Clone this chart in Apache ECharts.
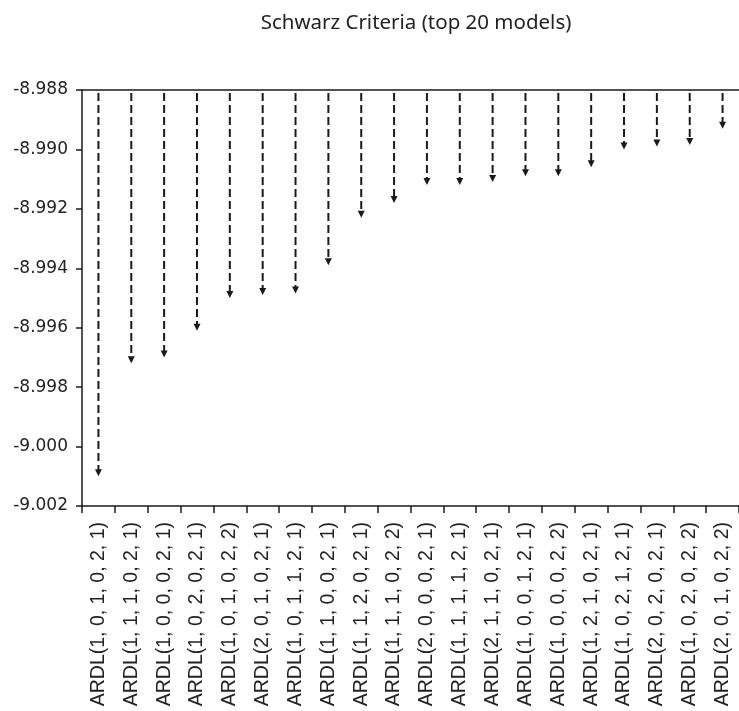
<!DOCTYPE html>
<html>
<head>
<meta charset="utf-8">
<script src="https://cdn.jsdelivr.net/npm/echarts@6/dist/echarts.min.js"></script>
<style>html,body{margin:0;padding:0;background:#fff}#c{width:739px;height:711px}</style>
</head>
<body>
<div id="c"></div>
<script>
const models = [
  "ARDL(1, 0, 1, 0, 2, 1)", "ARDL(1, 1, 1, 0, 2, 1)", "ARDL(1, 0, 0, 0, 2, 1)",
  "ARDL(1, 0, 2, 0, 2, 1)", "ARDL(1, 0, 1, 0, 2, 2)", "ARDL(2, 0, 1, 0, 2, 1)",
  "ARDL(1, 0, 1, 1, 2, 1)", "ARDL(1, 1, 0, 0, 2, 1)", "ARDL(1, 1, 2, 0, 2, 1)",
  "ARDL(1, 1, 1, 0, 2, 2)", "ARDL(2, 0, 0, 0, 2, 1)", "ARDL(1, 1, 1, 1, 2, 1)",
  "ARDL(2, 1, 1, 0, 2, 1)", "ARDL(1, 0, 0, 1, 2, 1)", "ARDL(1, 0, 0, 0, 2, 2)",
  "ARDL(1, 2, 1, 0, 2, 1)", "ARDL(1, 0, 2, 1, 2, 1)", "ARDL(2, 0, 2, 0, 2, 1)",
  "ARDL(1, 0, 2, 0, 2, 2)", "ARDL(2, 0, 1, 0, 2, 2)"
];
const schwarz = [
  -9.0010, -8.9972, -8.9970, -8.9961, -8.9950, -8.9949, -8.99485, -8.9939,
  -8.9923, -8.9918, -8.9912, -8.9912, -8.9911, -8.9909, -8.9909, -8.9906,
  -8.9900, -8.9899, -8.98985, -8.9893
];
const yMin = -9.002, yMax = -8.988, yStep = 0.002;

const chart = echarts.init(document.getElementById('c'));
const ink = '#1a1a1a';
chart.setOption({
  animation: false,
  backgroundColor: '#fff',
  title: {
    text: 'Schwarz Criteria (top 20 models)',
    left: 411, top: 8, textAlign: 'center',
    textStyle: { fontFamily: '"Noto Sans"', fontSize: 20.5, fontWeight: 'normal', color: '#222' }
  },
  grid: { left: 82, top: 90, width: 666, height: 416 },
  xAxis: [{
    type: 'category', data: models, position: 'bottom',
    axisLine: { lineStyle: { color: ink, width: 1.5 } },
    axisTick: { show: true, length: 7, lineStyle: { color: ink, width: 1.5 } },
    axisLabel: { rotate: 90, interval: 0, margin: 16, fontFamily: '"Liberation Sans", Arial, sans-serif', fontSize: 19.5, color: '#222' }
  }, {
    type: 'category', data: models, position: 'top',
    axisLine: { lineStyle: { color: ink, width: 1.5 } },
    axisTick: { show: false }, axisLabel: { show: false }
  }],
  yAxis: {
    type: 'value', min: yMin, max: yMax, interval: yStep,
    axisLine: { show: true, lineStyle: { color: ink, width: 1.5 } },
    axisTick: { show: true, length: 6, lineStyle: { color: ink, width: 1.5 } },
    splitLine: { show: false },
    axisLabel: { margin: 14, fontFamily: '"DejaVu Sans", Verdana, sans-serif', fontSize: 17, color: '#222',
      formatter: v => v.toFixed(3) }
  },
  series: [{
    type: 'custom',
    data: schwarz.map((v, i) => [i, v]),
    renderItem: function (params, api) {
      const i = api.value(0), v = api.value(1);
      const top = api.coord([i, yMax]);
      const tip = api.coord([i, v]);
      return {
        type: 'group',
        children: [{
          type: 'line',
          shape: { x1: top[0], y1: top[1] + 3, x2: tip[0], y2: tip[1] - 6 },
          style: { stroke: ink, lineWidth: 2, lineDash: [8, 4] }
        }, {
          type: 'polygon',
          shape: { points: [[tip[0] - 3.5, tip[1] - 7], [tip[0] + 3.5, tip[1] - 7], [tip[0], tip[1]]] },
          style: { fill: ink }
        }]
      };
    }
  }]
});
</script>
</body>
</html>
